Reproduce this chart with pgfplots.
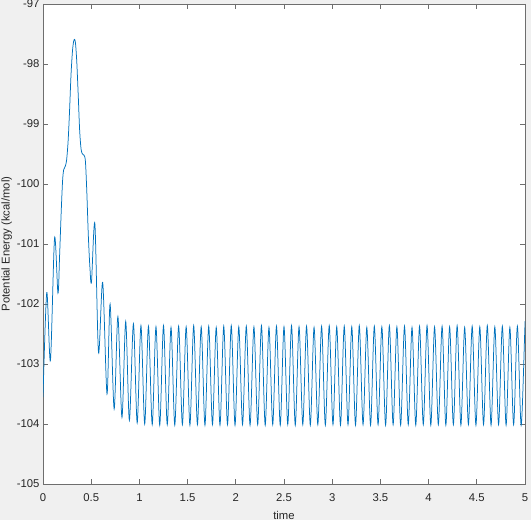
\documentclass[border=0pt]{standalone}
\usepackage{pgfplots}
\pgfplotsset{compat=1.18}
\usepackage{fontspec}
\setmainfont{Liberation Sans}
\definecolor{figbg}{RGB}{240,240,240}
\definecolor{axgray}{RGB}{110,110,110}
\definecolor{txtgray}{RGB}{38,38,38}
\definecolor{mlblue}{RGB}{0,114,189}
\begin{document}
\begin{tikzpicture}
\fill[figbg] (-43bp,-36bp) rectangle (488bp,484bp);
\begin{axis}[
  at={(0,0)}, anchor=south west,
  scale only axis, width=482bp, height=480bp,
  xmin=0, xmax=5, ymin=-105, ymax=-97,
  xtick={0,0.5,1,1.5,2,2.5,3,3.5,4,4.5,5},
  ytick={-105,-104,-103,-102,-101,-100,-99,-98,-97},
  tick align=inside, major tick length=5bp,
  axis background/.style={fill=white},
  axis line style={axgray, line width=0.75bp},
  every tick/.style={axgray, line width=0.75bp},
  tick label style={font=\fontsize{11.3bp}{13bp}\selectfont, text=txtgray},
  /pgf/number format/assume math mode=true,
  xticklabel style={yshift=-6bp},
  label style={font=\fontsize{11.3bp}{13bp}\selectfont, text=txtgray},
  xlabel={time}, ylabel={Potential Energy (kcal/mol)},
  xlabel style={at={(axis description cs:0.5,-0.0646)}, anchor=center},
  ylabel style={at={(axis description cs:-0.0755,0.5)}, anchor=center},
]
\addplot[mlblue, line width=0.75bp, smooth, no markers] coordinates {
(0.000,-103.55) (0.039,-101.81) (0.077,-102.94) (0.120,-100.90) (0.155,-101.82)
(0.172,-101.20) (0.188,-100.50) (0.203,-99.95) (0.215,-99.76) (0.232,-99.70)
(0.245,-99.60) (0.260,-99.30) (0.275,-98.80) (0.290,-98.20) (0.305,-97.80)
(0.317,-97.63) (0.327,-97.59) (0.337,-97.65) (0.350,-97.95) (0.365,-98.50)
(0.380,-99.10) (0.395,-99.42) (0.410,-99.50) (0.425,-99.52) (0.440,-99.62)
(0.455,-100.15) (0.470,-100.85) (0.487,-101.40) (0.503,-101.63)
(0.538,-100.66) (0.576,-102.81) (0.619,-101.64) (0.664,-103.50) (0.696,-102.00)
(0.738,-103.75) (0.777,-102.21) (0.819,-103.89) (0.858,-102.29) (0.896,-103.94)
(0.938,-102.33) (0.977,-103.98)
(1.016,-102.36) (1.055,-104.00) (1.094,-102.37) (1.133,-104.01) (1.172,-102.38)
(1.211,-104.02) (1.250,-102.36) (1.289,-104.01) (1.328,-102.39) (1.367,-104.02)
(1.407,-102.37) (1.446,-104.01) (1.485,-102.38) (1.524,-104.02) (1.563,-102.36)
(1.602,-104.01) (1.641,-102.38) (1.680,-104.02) (1.719,-102.37) (1.758,-104.01)
(1.797,-102.39) (1.836,-104.02) (1.875,-102.37) (1.914,-104.01) (1.953,-102.36)
(1.992,-104.02) (2.031,-102.38) (2.070,-104.01) (2.109,-102.37) (2.148,-104.02)
(2.188,-102.38) (2.227,-104.01) (2.266,-102.36) (2.305,-104.02) (2.344,-102.39)
(2.383,-104.01) (2.422,-102.37) (2.461,-104.02) (2.500,-102.38) (2.539,-104.01)
(2.578,-102.36) (2.617,-104.02) (2.656,-102.38) (2.695,-104.01) (2.734,-102.37)
(2.773,-104.02) (2.812,-102.39) (2.851,-104.01) (2.890,-102.37) (2.929,-104.02)
(2.969,-102.36) (3.008,-104.01) (3.047,-102.38) (3.086,-104.02) (3.125,-102.37)
(3.164,-104.01) (3.203,-102.38) (3.242,-104.02) (3.281,-102.36) (3.320,-104.01)
(3.359,-102.39) (3.398,-104.02) (3.437,-102.37) (3.476,-104.01) (3.515,-102.38)
(3.554,-104.02) (3.593,-102.36) (3.632,-104.01) (3.671,-102.38) (3.710,-104.02)
(3.750,-102.37) (3.789,-104.01) (3.828,-102.39) (3.867,-104.02) (3.906,-102.37)
(3.945,-104.01) (3.984,-102.36) (4.023,-104.02) (4.062,-102.38) (4.101,-104.01)
(4.140,-102.37) (4.179,-104.02) (4.218,-102.38) (4.257,-104.01) (4.296,-102.36)
(4.335,-104.02) (4.374,-102.39) (4.413,-104.01) (4.452,-102.37) (4.491,-104.02)
(4.531,-102.38) (4.570,-104.01) (4.609,-102.36) (4.648,-104.02) (4.687,-102.38)
(4.726,-104.01) (4.765,-102.37) (4.804,-104.02) (4.843,-102.39) (4.882,-104.01)
(4.921,-102.37) (4.960,-104.02) (4.999,-102.38) (5.000,-102.38)
};
\end{axis}
\pgfresetboundingbox
\path[use as bounding box] (-43bp,-36bp) rectangle (488bp,484bp);
\end{tikzpicture}
\end{document}
